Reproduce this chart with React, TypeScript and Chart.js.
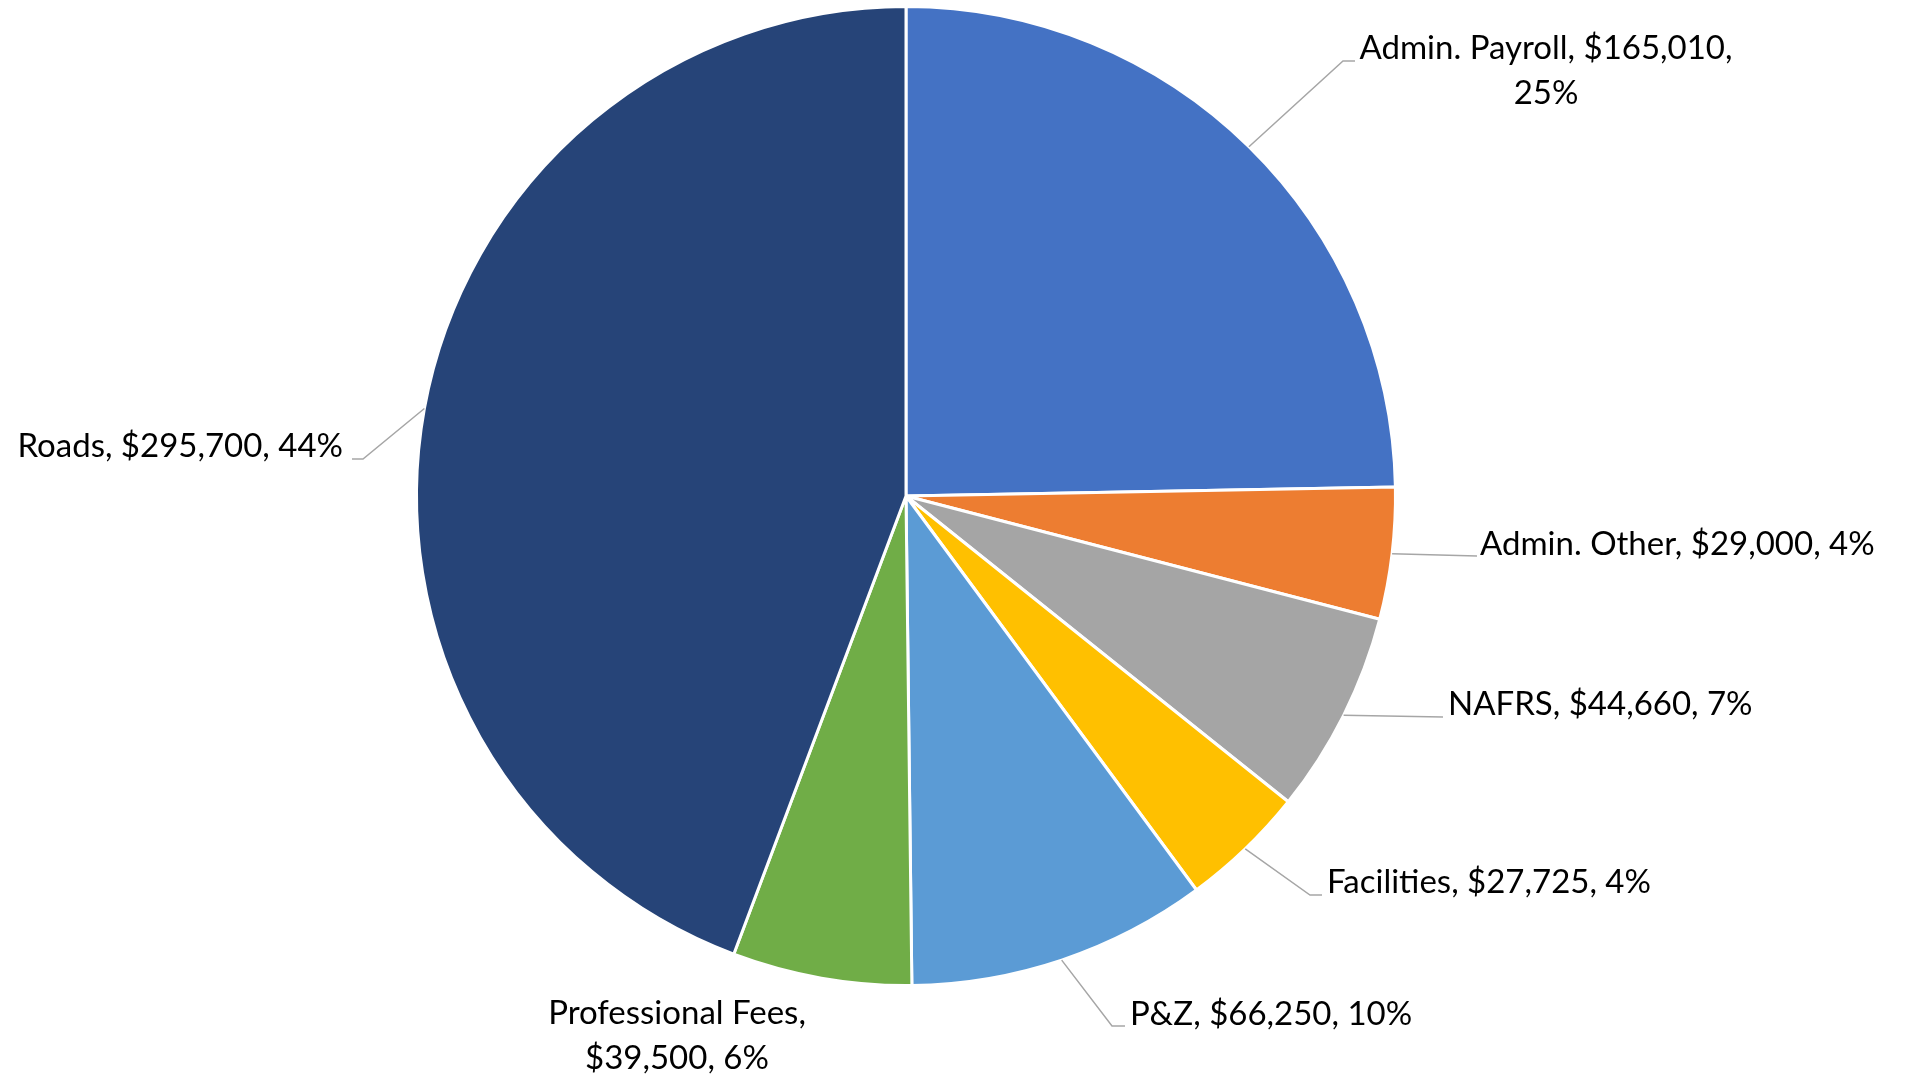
import React, { useEffect, useRef } from "react";
import { Chart, registerables } from "chart.js";

Chart.register(...registerables);

// ---- data ----
const categories = [
  "Admin. Payroll",
  "Admin. Other",
  "NAFRS",
  "Facilities",
  "P&Z",
  "Professional Fees",
  "Roads",
];
const amounts = [165010, 29000, 44660, 27725, 66250, 39500, 295700];
const sliceColors = ["#4472C4", "#ED7D31", "#A5A5A5", "#FFC000", "#5B9BD5", "#70AD47", "#264478"];
// how each data label wraps: "none", "beforePct" (break before the percentage), "afterName"
const labelWrap = ["beforePct", "none", "none", "none", "none", "afterName", "none"];

// ---- label layout (offsets from the pie centre, in px for a 489.5px radius) ----
type Layout = {
  elbow?: [number, number];
  end?: [number, number];
  align: CanvasTextAlign;
  tx: number;
  ty: number;
};
const labelLayout: Layout[] = [
  { elbow: [437, -435], end: [449, -435], align: "center", tx: 640, ty: -437 },
  { end: [571, 60], align: "left", tx: 574, ty: 59 },
  { end: [537, 221], align: "left", tx: 542, ty: 219 },
  { elbow: [404, 399], end: [416, 399], align: "left", tx: 421, ty: 397 },
  { elbow: [206, 530], end: [219, 530], align: "left", tx: 224, ty: 529 },
  { align: "center", tx: -229, ty: 528 },
  { elbow: [-543, -37], end: [-554, -37], align: "right", tx: -563, ty: -39 },
];
const LABEL_FONT = "33px Lato, 'Liberation Sans', sans-serif";
const LINE_HEIGHT = 45;
const BASE_RADIUS = 489.5;

function buildLabel(i: number, total: number): string[] {
  const pct = Math.round((amounts[i] / total) * 100) + "%";
  const money = "$" + amounts[i].toLocaleString("en-US");
  const name = categories[i];
  if (labelWrap[i] === "beforePct") return [`${name}, ${money},`, pct];
  if (labelWrap[i] === "afterName") return [`${name},`, `${money}, ${pct}`];
  return [`${name}, ${money}, ${pct}`];
}

const labelPlugin = {
  id: "pieLabels",
  afterDraw(chart: any) {
    const ctx: CanvasRenderingContext2D = chart.ctx;
    const meta = chart.getDatasetMeta(0);
    const total = amounts.reduce((a, b) => a + b, 0);
    ctx.save();
    meta.data.forEach((arc: any, i: number) => {
      const p = arc.getProps(["x", "y", "startAngle", "endAngle", "outerRadius"], true);
      const s = p.outerRadius / BASE_RADIUS;
      const mid = (p.startAngle + p.endAngle) / 2;
      const L = labelLayout[i];
      if (L.end) {
        ctx.beginPath();
        ctx.strokeStyle = "#A6A6A6";
        ctx.lineWidth = 1.5;
        ctx.moveTo(p.x + Math.cos(mid) * p.outerRadius, p.y + Math.sin(mid) * p.outerRadius);
        if (L.elbow) ctx.lineTo(p.x + L.elbow[0] * s, p.y + L.elbow[1] * s);
        ctx.lineTo(p.x + L.end[0] * s, p.y + L.end[1] * s);
        ctx.stroke();
      }
      ctx.fillStyle = "#000000";
      ctx.font = LABEL_FONT;
      ctx.textAlign = L.align;
      ctx.textBaseline = "alphabetic";
      const lines = buildLabel(i, total);
      lines.forEach((ln, k) => {
        ctx.fillText(ln, p.x + L.tx * s, p.y + L.ty * s + k * LINE_HEIGHT);
      });
    });
    ctx.restore();
  },
};

export default function App() {
  const ref = useRef<HTMLCanvasElement | null>(null);
  useEffect(() => {
    document.body.style.margin = "0";
    document.body.style.background = "#ffffff";
    const chart = new Chart(ref.current as HTMLCanvasElement, {
      type: "pie",
      data: {
        labels: categories,
        datasets: [
          {
            data: amounts,
            backgroundColor: sliceColors,
            borderColor: "#ffffff",
            borderWidth: 3,
          },
        ],
      },
      options: {
        responsive: false,
        animation: false,
        layout: { padding: { left: 415, right: 508, top: 5, bottom: 91 } },
        plugins: {
          legend: { display: false },
          tooltip: { enabled: false },
        },
      },
      plugins: [labelPlugin],
    });
    return () => chart.destroy();
  }, []);
  return (
    <div style={{ width: 1905, height: 1078, background: "#fff" }}>
      <canvas ref={ref} width={1905} height={1078} style={{ display: "block" }} />
    </div>
  );
}
